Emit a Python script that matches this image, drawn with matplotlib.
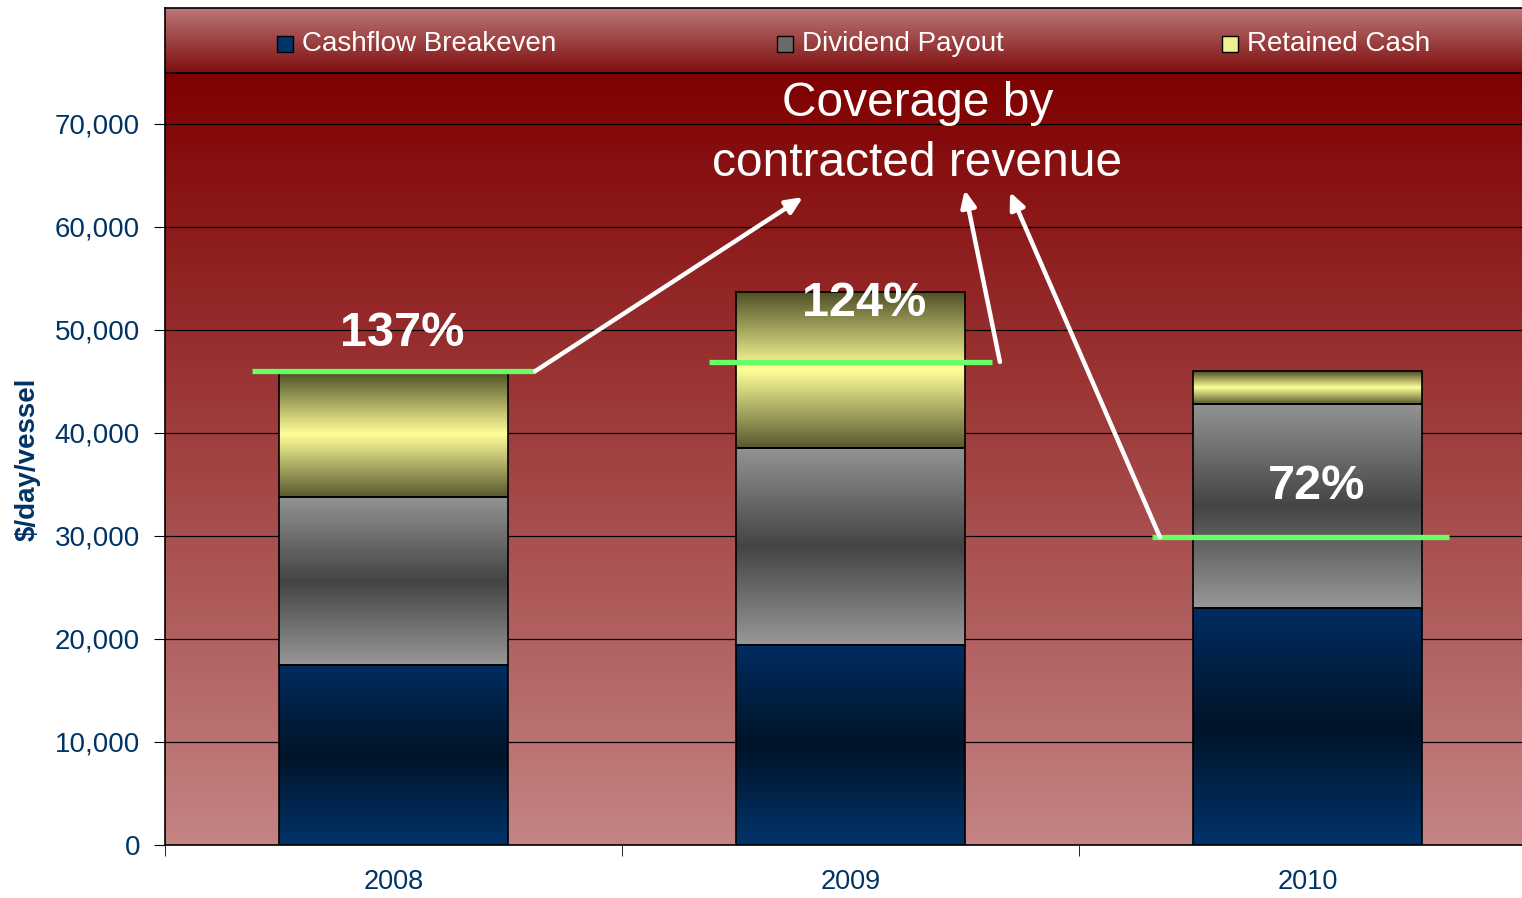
import numpy as np
import matplotlib.pyplot as plt
from matplotlib.colors import LinearSegmentedColormap
from matplotlib.patches import Rectangle

plt.rcParams['font.family'] = ['Liberation Sans', 'DejaVu Sans']

years = ['2008', '2009', '2010']
breakeven = [17500, 19400, 23000]
dividend = [16300, 19100, 19800]
retained = [12200, 15200, 3200]
coverage = [46000, 46900, 29900]
coverage_lbl = ['137%', '124%', '72%']
series_names = ['Cashflow Breakeven', 'Dividend Payout', 'Retained Cash']

navy = '#003366'

def grad(colors):
    return LinearSegmentedColormap.from_list('g', colors)

cm_navy = grad(['#00336a', '#001428', '#002c60'])
cm_gray = grad(['#989898', '#444444', '#939393'])
cm_yell = grad(['#585830', '#ffff99', '#4e4e26'])
cm_bg = grad(['#c48484', '#7f0000'])
cm_band = grad(['#7f0e0e', '#bb7777'])

fig = plt.figure(figsize=(15.22, 8.98), dpi=100)
ax = fig.add_axes([165 / 1522, 53 / 898, 1371 / 1522, 837 / 898])

ymax = 81260
band = 74950
ax.set_xlim(-0.5, 2.5)
ax.set_ylim(0, ymax)

ramp = np.linspace(0, 1, 256).reshape(-1, 1)
ax.imshow(ramp, cmap=cm_bg, extent=[-0.5, 2.5, 0, band], origin='lower',
          aspect='auto', zorder=0)
ax.imshow(ramp, cmap=cm_band, extent=[-0.5, 2.5, band, ymax], origin='lower',
          aspect='auto', zorder=0)
ax.axhline(band, color='black', lw=1.2, zorder=1)

for v in range(10000, 80000, 10000):
    ax.axhline(v, color='black', lw=0.9, zorder=1)

x = np.arange(len(years))
bottoms = np.zeros(len(years))
for vals, cm in [(breakeven, cm_navy), (dividend, cm_gray), (retained, cm_yell)]:
    bars = ax.bar(x, vals, width=0.5, bottom=bottoms, facecolor='none',
                  edgecolor='black', lw=1.2, zorder=3)
    for p in bars:
        x0, y0 = p.get_x(), p.get_y()
        im = ax.imshow(ramp, cmap=cm, origin='lower', aspect='auto', zorder=2,
                       extent=[x0, x0 + p.get_width(), y0, y0 + p.get_height()])
        im.set_clip_path(p)
    bottoms += np.array(vals)

# coverage lines
for i, c in enumerate(coverage):
    ax.plot([i - 0.31 - (0.03 if i == 2 else 0), i + 0.31], [c, c],
            color='#66ff66', lw=3.8, zorder=5, solid_capstyle='butt')

lbl_pos = [(0.02, 49700), (1.03, 52600), (2.02, 34850)]
for (lx, ly), t in zip(lbl_pos, coverage_lbl):
    ax.text(lx, ly, t, color='white', fontsize=35, fontweight='bold',
            ha='center', va='center', zorder=6)

ax.text(1.146, 69050, 'Coverage by\ncontracted revenue', color='white',
        fontsize=34.5, ha='center', va='center', linespacing=1.43, zorder=6)

arrows = [((0.31, coverage[0]), (0.896, 62900)),
          ((1.327, coverage[1]), (1.25, 63600)),
          ((1.677, coverage[2]), (1.349, 63400))]
for tail, head in arrows:
    ax.annotate('', xy=head, xytext=tail, zorder=6,
                arrowprops=dict(arrowstyle='-|>,head_length=1.0,head_width=0.45',
                                color='white', lw=3.2, shrinkA=0, shrinkB=0))

# legend inside band
leg_x = [-0.255, 0.839, 1.813]
leg_cols = ['#00336a', '#6a6a6a', '#f0f090']
for lx, name, col in zip(leg_x, series_names, leg_cols):
    ax.add_patch(Rectangle((lx, 77000), 0.035, 1550, facecolor=col,
                           edgecolor='black', lw=1, zorder=6))
    ax.text(lx + 0.055, 77750, name, color='white', fontsize=20,
            ha='left', va='center', zorder=6)

ax.set_yticks(range(0, 80000, 10000))
ax.set_yticklabels([f'{v:,}' for v in range(0, 80000, 10000)])
ax.set_xticks(x)
ax.set_xticklabels(years)
ax.set_xticks([-0.5, 0.5, 1.5, 2.5], minor=True)
ax.tick_params(axis='x', which='major', length=0, labelsize=19.5,
               labelcolor=navy, pad=17)
ax.tick_params(axis='x', which='minor', length=8, direction='out')
ax.tick_params(axis='y', length=8, direction='out', labelsize=20,
               labelcolor=navy, pad=10)
ax.set_ylabel('$/day/vessel', color=navy, fontsize=20, fontweight='bold')
ax.yaxis.set_label_coords(-0.091, 0.461)
for s in ax.spines.values():
    s.set_color('black')
    s.set_linewidth(1.2)

fig.savefig('out.png', dpi=100)
